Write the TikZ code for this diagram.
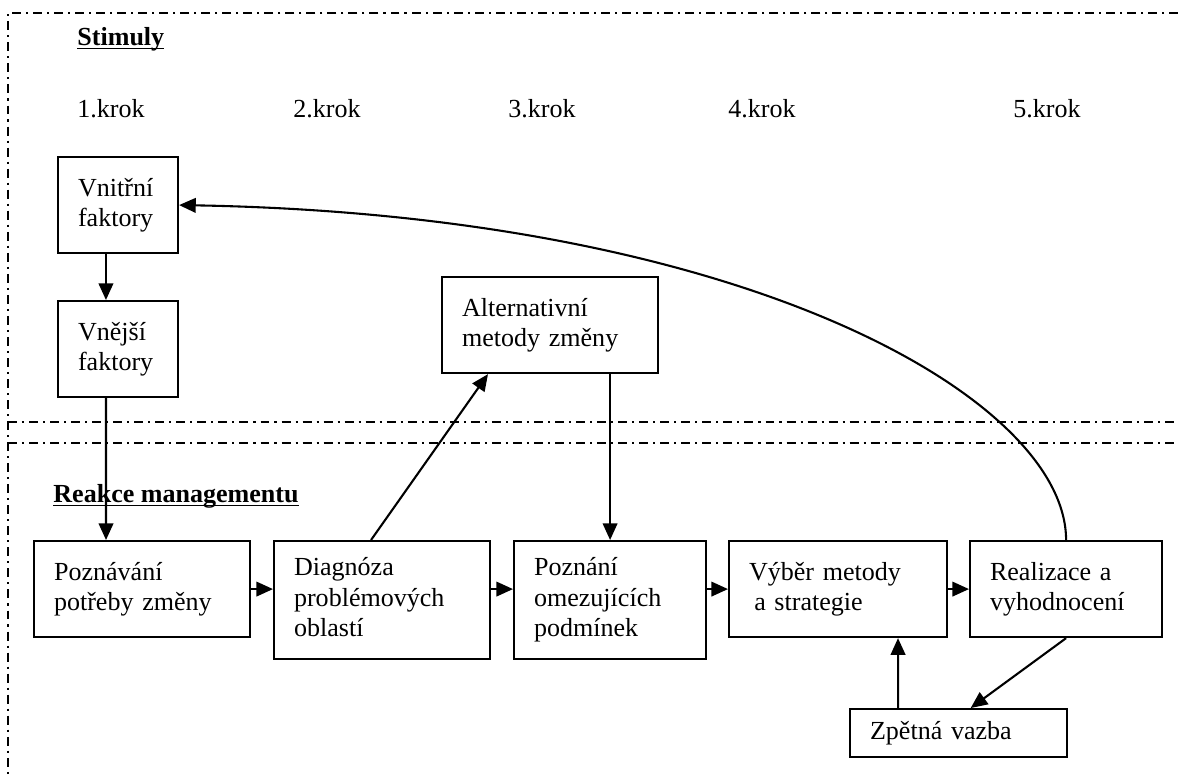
\documentclass[tikz,border=0pt]{standalone}
\usepackage{fontspec}
\setmainfont{Liberation Serif}
\usetikzlibrary{arrows.meta, positioning}
\tikzset{blok/.style = {
  % obdelnik
  rectangle,
  draw=black, line width=1pt,
  anchor=north west,
  inner xsep=9.6pt, inner ysep=0pt,
  align=left,
  % text
  font=\fontsize{12.5}{14.5}\selectfont,
  execute at begin node=\strut,
  execute at end node=\strut
  }}
\tikzset{sipka/.style = {
  -{Triangle[length=8pt, width=7pt]},
  line width=1pt
  }}
\tikzset{hranice/.style = {
  line width=0.6pt,
  dash pattern=on 4.3pt off 2.4pt on 1pt off 2.4pt
  }}
\tikzset{popis/.style = {
  anchor=base west, inner sep=0pt,
  font=\fontsize{12.5}{14.5}\selectfont
  }}

\begin{document}
\begin{tikzpicture}[x=0.48pt, y=-0.48pt]
\useasboundingbox (0,0) rectangle (1178,776);

% HRANICE
\draw [hranice] (1178,13) -- (8,13) -- (8,776);
\draw [hranice] (8,422) -- (1178,422);
\draw [hranice] (8,443) -- (1178,443);

% POPISY
\node (stimuly) [popis] at (77,45) {\underline{\smash{\textbf{Stimuly}}}};
\node (reakce) [popis] at (53,502) {\underline{\smash{\textbf{Reakce managementu}}}};
\node (krok1) [popis] at (77,117) {1.krok};
\node (krok2) [popis] at (293,117) {2.krok};
\node (krok3) [popis] at (508,117) {3.krok};
\node (krok4) [popis] at (728,117) {4.krok};
\node (krok5) [popis] at (1013,117) {5.krok};

% NODES
\node (vnitrni) [blok, text width=38.4pt, minimum height=46.1pt] at (57,156) {Vnitřní\\faktory};
\node (vnejsi) [blok, text width=38.4pt, minimum height=46.1pt] at (57,300) {Vnější\\faktory};
\node (alter) [blok, text width=84.5pt, minimum height=46.1pt] at (441,276) {Alternativní\\metody změny};

\node (poznavani) [blok, text width=84.5pt, minimum height=46.1pt] at (33,540) {Poznávání\\potřeby změny};
\node (diagnoza) [blok, text width=84.5pt, minimum height=56.6pt] at (273,540) {Diagnóza\\problémových\\oblastí};
\node (poznani) [blok, text width=73pt, minimum height=56.6pt] at (513,540) {Poznání\\omezujících\\podmínek};
\node (vyber) [blok, text width=85.4pt, minimum height=46.1pt] at (728,540) {Výběr metody\\\hspace*{2.5pt}a strategie};
\node (realizace) [blok, text width=73pt, minimum height=46.1pt] at (969,540) {Realizace a\\vyhodnocení};

\node (zpetna) [blok, text width=85pt, minimum height=23pt] at (849,708) {Zpětná vazba};

% arrows
\draw [sipka] ([xshift=-5.8pt]vnitrni.south) -- ([xshift=-5.8pt]vnejsi.north);
\draw [sipka] ([xshift=-5.8pt]vnejsi.south) -- ([xshift=-17.3pt]poznavani.north);

\draw [sipka] (poznavani.east) -- (poznavani.east -| diagnoza.west);
\draw [sipka] (poznavani.east -| diagnoza.east) -- (poznavani.east -| poznani.west);
\draw [sipka] (vyber.west -| poznani.east) -- (vyber.west);
\draw [sipka] (vyber.east) -- (realizace.west);

\draw [sipka] ([xshift=-5.3pt]diagnoza.north) -- ([xshift=-29.8pt]alter.south);
\draw [sipka] (alter.south -| poznani.north) -- (poznani.north);

\draw [sipka] (realizace.south) -- ([xshift=5.8pt]zpetna.north);
\draw [sipka] ([xshift=-29pt]zpetna.north) -- ([xshift=28.8pt]vyber.south);

\draw [sipka] (realizace.north) .. controls +(0,-140) and (750,215) .. (vnitrni.east);
\end{tikzpicture}
\end{document}
